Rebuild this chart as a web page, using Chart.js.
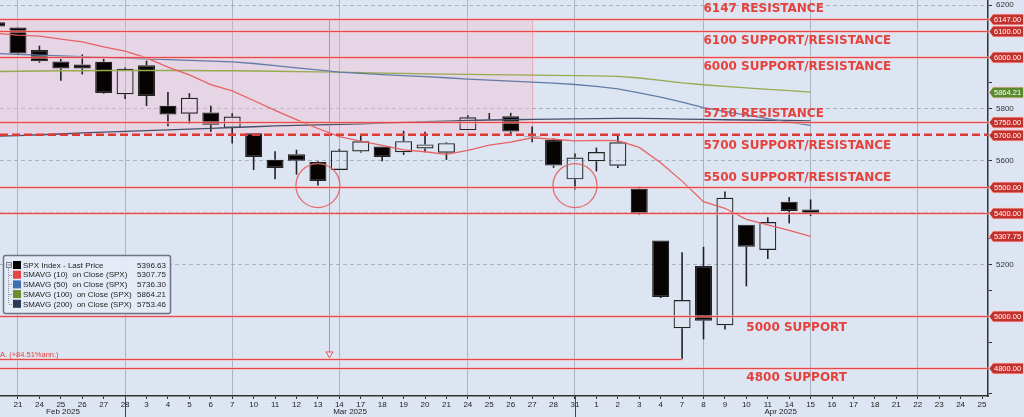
<!DOCTYPE html>
<html>
<head>
<meta charset="utf-8">
<title>SPX Index</title>
<script src="https://cdn.jsdelivr.net/npm/chart.js@4.4.1/dist/chart.umd.min.js"></script>
<style>
  html, body { margin: 0; padding: 0; background: #dde5f2; overflow: hidden; }
  canvas { display: block; }
</style>
</head>
<body>
<canvas id="chart" width="1024" height="417"></canvas>
<script>
// x axis day labels, index 0 = Feb 21 2025
const dayLabels = ["21","24","25","26","27","28","3","4","5","6","7","10","11","12","13","14","17","18","19","20","21","24","25","26","27","28","31","1","2","3","4","7","8","9","10","11","14","15","16","17","18","21","22","23","24","25"];

// SPX daily candles, Feb 20 (index -1) to Apr 15 (index 37)
const opens  = [6134.50,6114.10,6026.69,5982.73,5970.87,5981.88,5856.74,5968.33,5811.98,5781.46,5785.87,5726.01,5705.37,5603.65,5624.84,5594.45,5563.85,5635.60,5654.53,5632.37,5646.92,5630.73,5718.08,5775.86,5771.66,5695.64,5679.85,5527.91,5597.53,5580.76,5492.74,5292.14,4953.79,5193.57,4965.28,5353.15,5255.56,5441.96,5411.99];
const highs  = [6134.50,6114.82,6043.65,5992.65,6009.82,5993.69,5959.40,5986.09,5865.08,5860.59,5812.08,5783.01,5705.37,5636.30,5642.19,5597.78,5645.27,5703.52,5654.53,5715.33,5711.15,5670.84,5775.14,5783.96,5784.62,5732.28,5685.89,5627.56,5650.57,5695.31,5499.53,5292.14,5246.57,5267.47,5481.34,5353.15,5381.46,5459.46,5450.41];
const lows   = [6084.59,6008.56,5977.83,5908.49,5932.69,5858.78,5837.66,5810.91,5732.59,5742.35,5711.64,5666.29,5564.02,5528.41,5546.09,5504.65,5563.85,5631.12,5597.76,5622.20,5632.83,5603.10,5718.08,5759.07,5695.51,5670.94,5572.42,5488.73,5558.52,5571.48,5390.83,5069.90,4835.04,4910.42,4948.43,5115.27,5220.77,5358.02,5386.44];
const closes = [6117.52,6013.13,5983.25,5955.25,5956.06,5861.57,5954.50,5849.72,5778.15,5842.63,5738.52,5770.20,5614.56,5572.07,5599.30,5521.52,5638.94,5675.12,5614.66,5675.29,5662.89,5667.56,5767.57,5776.65,5712.20,5693.31,5580.94,5611.85,5633.07,5670.97,5396.52,5074.08,5062.25,4982.77,5456.90,5268.05,5363.36,5405.97,5396.63];

// moving averages, same days
const sma10  = [6091.74,6084.70,6080.42,6069.31,6058.06,6039.02,6022.96,5996.47,5961.33,5931.18,5893.28,5868.99,5832.12,5793.80,5758.12,5724.12,5692.56,5675.10,5658.75,5642.02,5634.46,5624.19,5639.49,5659.95,5671.24,5688.42,5682.62,5676.29,5678.13,5677.70,5651.06,5591.72,5521.18,5441.80,5416.27,5373.74,5351.98,5331.39,5307.75];
const sma50  = [6014,6010,6007,6004,6001,5999,5996,5993,5990,5987,5984,5981,5975,5967,5958,5950,5942,5937,5932,5928,5924,5920,5915,5911,5907,5903,5899,5894,5887,5877,5862,5845,5826,5805,5790,5776,5762,5749,5736.30];
const sma100 = [5944,5945,5946,5947,5947,5948,5948,5948,5948,5948,5947,5947,5946,5945,5944,5943,5942,5940,5938,5937,5935,5934,5933,5932,5931,5930,5929,5928,5927,5925,5919,5910,5900,5893,5887,5881,5875,5870,5864.21];
const sma200 = [5694,5697,5700,5703,5707,5710,5713,5716,5719,5722,5725,5728,5731,5734,5736,5738,5740,5742,5745,5748,5751,5753,5755,5757,5758,5759,5760,5761,5762,5763,5763,5762,5760,5759,5758,5757,5756,5755,5753.46];

// support / resistance levels
const levels = [6147, 6100, 6000, 5750, 5500, 5400, 5000, 4800];
const dashedLevel = 5700;
const yTickLabels = [6200, 5800, 5600, 5200];

// annotation layout
const gridDays = [0, 5, 10, 15, 21, 26, 32, 37, 42];
const monthNames = ["Feb 2025", "Mar 2025", "Apr 2025"];
const monthCenters = [2.1, 15.5, 35.6];
const monthEnds = [5, 26];
const notes = [
  ["6147 RESISTANCE", 6147, -10, 32],
  ["6100 SUPPORT/RESISTANCE", 6100, 10, 32],
  ["6000 SUPPORT/RESISTANCE", 6000, 10, 32],
  ["5750 RESISTANCE", 5750, -8, 32],
  ["5700 SUPPORT/RESISTANCE", 5700, 11, 32],
  ["5500 SUPPORT/RESISTANCE", 5500, -9, 32],
  ["5000 SUPPORT", 5000, 12, 34],
  ["4800 SUPPORT", 4800, 10, 34]
];
const circleDays = [14, 26];
const zone = { end: 24, top: 6147, bottom: 5700 };
const measure = { day: 14.5, from: 6147, to: 4835.04, toDay: 31, text: "A. (+84.51%ann.)" };

const BG = '#dde5f2';
const RED = '#e6423c';
const xs = closes.map((c, i) => i - 1);
const line = arr => xs.map((x, i) => ({ x: x, y: arr[i] }));

const lineDs = (label, arr, color) => ({
  type: 'line', label: label, data: line(arr), borderColor: color, borderWidth: 1.3,
  pointRadius: 0, tension: 0, fill: false
});

const barDs = (label, data, fill, thick) => ({
  type: 'bar', label: label, data: data, grouped: false, barThickness: thick,
  backgroundColor: fill, borderColor: thick > 3 ? '#222222' : 'rgba(0,0,0,0)',
  borderWidth: thick > 3 ? 1.2 : 0, borderSkipped: false, inflateAmount: 0
});

const deco = {
  id: 'deco',
  beforeDraw(chart) {
    const c = chart.ctx;
    c.save(); c.fillStyle = BG; c.fillRect(0, 0, chart.width, chart.height); c.restore();
  },
  beforeDatasetsDraw(chart) {
    const { ctx, chartArea: a, scales: { x, y } } = chart;
    const x1 = x.getPixelForValue(zone.end);
    const yt = y.getPixelForValue(zone.top), yb = y.getPixelForValue(zone.bottom);
    ctx.save();
    ctx.fillStyle = 'rgba(245,180,202,0.32)';
    ctx.fillRect(a.left, yt, x1 - a.left, yb - yt);
    ctx.strokeStyle = 'rgba(235,130,140,0.6)';
    ctx.lineWidth = 1;
    ctx.beginPath(); ctx.moveTo(x1 + 0.5, yt); ctx.lineTo(x1 + 0.5, yb); ctx.stroke();
    ctx.restore();
  },
  afterDatasetsDraw(chart) {
    const { ctx, chartArea: a, scales: { x, y } } = chart;
    ctx.save();
    const hline = (py, x0, x1) => {
      ctx.strokeStyle = 'rgba(255,170,170,0.55)'; ctx.lineWidth = 3;
      ctx.beginPath(); ctx.moveTo(x0, py); ctx.lineTo(x1, py); ctx.stroke();
      ctx.strokeStyle = 'rgba(222,62,62,0.9)'; ctx.lineWidth = 1.2;
      ctx.beginPath(); ctx.moveTo(x0, py); ctx.lineTo(x1, py); ctx.stroke();
    };
    levels.forEach(v => hline(Math.round(y.getPixelForValue(v)) + 0.5, a.left, a.right));

    // dashed 5700
    const pd = y.getPixelForValue(dashedLevel);
    ctx.strokeStyle = 'rgb(225,55,55)'; ctx.lineWidth = 2.5; ctx.setLineDash([8, 4]);
    ctx.beginPath(); ctx.moveTo(a.left, pd); ctx.lineTo(a.right, pd); ctx.stroke();
    ctx.setLineDash([]);

    // measure lines
    const mx = Math.round(x.getPixelForValue(measure.day)) + 0.5;
    const my0 = y.getPixelForValue(measure.from), my1 = y.getPixelForValue(measure.to);
    ctx.strokeStyle = 'rgba(232,110,110,0.85)'; ctx.lineWidth = 1;
    ctx.beginPath(); ctx.moveTo(mx, my0); ctx.lineTo(mx, my1 - 7); ctx.stroke();
    hline(Math.round(my1) + 0.5, a.left, x.getPixelForValue(measure.toDay));
    ctx.fillStyle = BG; ctx.strokeStyle = 'rgba(225,80,80,0.95)'; ctx.lineWidth = 1;
    ctx.beginPath(); ctx.moveTo(mx - 3.5, my1 - 7); ctx.lineTo(mx + 3.5, my1 - 7); ctx.lineTo(mx, my1 - 1); ctx.closePath();
    ctx.fill(); ctx.stroke();
    ctx.fillStyle = RED; ctx.font = '7.5px "Liberation Sans"'; ctx.textBaseline = 'alphabetic'; ctx.textAlign = 'left';
    ctx.fillText(measure.text, a.left, my1 - 2);

    // circles
    ctx.strokeStyle = 'rgba(230,95,95,0.9)'; ctx.lineWidth = 1.3;
    circleDays.forEach(d => {
      ctx.beginPath(); ctx.arc(x.getPixelForValue(d), y.getPixelForValue(5500) - 1, 22, 0, Math.PI * 2); ctx.stroke();
    });

    // notes
    ctx.fillStyle = RED; ctx.font = 'bold 12px "DejaVu Sans"'; ctx.textBaseline = 'middle'; ctx.textAlign = 'left';
    notes.forEach(n => ctx.fillText(n[0], x.getPixelForValue(n[3]), y.getPixelForValue(n[1]) + n[2]));
    ctx.restore();
  },
  afterDraw(chart) {
    const { ctx, chartArea: a, scales: { x, y } } = chart;
    ctx.save();
    // right-axis tags
    const tags = levels.concat([dashedLevel]).map(v => [v, v.toFixed(2), '#c4302b'])
      .concat([[sma100[sma100.length - 1], sma100[sma100.length - 1].toFixed(2), '#5a8a2c'],
               [sma10[sma10.length - 1], sma10[sma10.length - 1].toFixed(2), '#c4302b']]);
    ctx.font = '7.5px "Liberation Sans"'; ctx.textBaseline = 'middle'; ctx.textAlign = 'left';
    tags.forEach(t => {
      const py = Math.round(y.getPixelForValue(t[0])) + 0.5;
      const x0 = a.right + 1;
      ctx.beginPath();
      ctx.moveTo(x0, py); ctx.lineTo(x0 + 4, py - 5.5); ctx.lineTo(1023.5, py - 5.5);
      ctx.lineTo(1023.5, py + 5.5); ctx.lineTo(x0 + 4, py + 5.5); ctx.closePath();
      ctx.fillStyle = t[2]; ctx.fill();
      ctx.strokeStyle = 'rgba(255,205,205,0.9)'; ctx.lineWidth = 1; ctx.stroke();
      ctx.fillStyle = '#fff'; ctx.fillText(t[1], x0 + 5, py + 0.5);
    });

    // month labels and separators
    ctx.font = '8px "Liberation Sans"';
    ctx.fillStyle = '#222'; ctx.textAlign = 'center'; ctx.textBaseline = 'middle';
    monthNames.forEach((m, i) => ctx.fillText(m, x.getPixelForValue(monthCenters[i]), 412));
    ctx.strokeStyle = '#444'; ctx.lineWidth = 1;
    monthEnds.forEach(d => {
      const px = Math.round(x.getPixelForValue(d)) + 0.5;
      ctx.beginPath(); ctx.moveTo(px, a.bottom); ctx.lineTo(px, chart.height); ctx.stroke();
    });

    // legend box
    const rows = [
      ["SPX Index - Last Price", closes, '#000000'],
      ["SMAVG (10)  on Close (SPX)", sma10, '#e84444'],
      ["SMAVG (50)  on Close (SPX)", sma50, '#3f6fb0'],
      ["SMAVG (100)  on Close (SPX)", sma100, '#6e8c2a'],
      ["SMAVG (200)  on Close (SPX)", sma200, '#2c3b55']
    ];
    ctx.beginPath(); ctx.roundRect(3.5, 255.5, 167, 58, 2);
    ctx.fillStyle = 'rgba(228,234,246,0.97)'; ctx.fill();
    ctx.strokeStyle = '#6a7484'; ctx.lineWidth = 1.5; ctx.stroke();
    ctx.strokeStyle = '#8a93a2'; ctx.lineWidth = 1; ctx.setLineDash([1, 1]);
    ctx.beginPath(); ctx.moveTo(8.5, 268); ctx.lineTo(8.5, 304); ctx.stroke();
    rows.forEach((r, i) => {
      const ry = 265 + i * 9.7;
      if (i > 0) { ctx.beginPath(); ctx.moveTo(9, Math.round(ry) + 0.5); ctx.lineTo(13, Math.round(ry) + 0.5); ctx.stroke(); }
    });
    ctx.setLineDash([]);
    ctx.strokeStyle = '#7a8392'; ctx.strokeRect(6.5, 262.5, 5, 5);
    ctx.beginPath(); ctx.moveTo(7.5, 265); ctx.lineTo(11, 265); ctx.stroke();
    ctx.font = '8px "Liberation Sans"'; ctx.textBaseline = 'middle';
    rows.forEach((r, i) => {
      const ry = 265 + i * 9.7;
      ctx.fillStyle = r[2]; ctx.fillRect(13, ry - 4, 8, 8);
      ctx.fillStyle = '#1e1e1e'; ctx.textAlign = 'left';
      ctx.fillText(r[0], 23, ry + 0.5);
      ctx.textAlign = 'right';
      ctx.fillText(r[1][r[1].length - 1].toFixed(2), 166, ry + 0.5);
    });
    ctx.restore();
  }
};

new Chart(document.getElementById('chart').getContext('2d'), {
  type: 'bar',
  data: {
    datasets: [
      lineDs('SMAVG (10)', sma10, 'rgba(232,92,92,0.95)'),
      lineDs('SMAVG (50)', sma50, 'rgb(98,124,165)'),
      lineDs('SMAVG (100)', sma100, 'rgb(150,170,78)'),
      lineDs('SMAVG (200)', sma200, 'rgb(68,80,104)'),
      barDs('Body', xs.map((x, i) => ({ x: x, y: [opens[i], closes[i]] })),
        xs.map((x, i) => closes[i] < opens[i] ? '#070303' : 'rgba(0,0,0,0)'), 17),
      barDs('Upper wick', xs.map((x, i) => ({ x: x, y: [Math.max(opens[i], closes[i]), highs[i]] })), '#222', 1.6),
      barDs('Lower wick', xs.map((x, i) => ({ x: x, y: [lows[i], Math.min(opens[i], closes[i])] })), '#222', 1.6)
    ]
  },
  options: {
    responsive: false,
    animation: false,
    devicePixelRatio: 1,
    layout: { padding: 0 },
    plugins: { legend: { display: false }, tooltip: { enabled: false } },
    scales: {
      x: {
        type: 'linear', min: -0.84, max: 45.28, offset: false,
        afterFit: s => { s.height = 21; s.paddingLeft = 0; s.paddingRight = 0; },
        ticks: {
          stepSize: 1, includeBounds: false, autoSkip: false, maxRotation: 0, padding: 1,
          color: '#222', font: { family: 'Liberation Sans', size: 8 },
          callback: v => dayLabels[v] ?? ''
        },
        grid: {
          offset: false, lineWidth: 1, tickLength: 3, tickColor: '#333',
          color: c => (c.tick && gridDays.includes(c.tick.value)) ? 'rgba(152,162,180,0.75)' : 'rgba(0,0,0,0)'
        },
        border: { color: '#333', width: 1.5 }
      },
      y: {
        position: 'right', min: 4692, max: 6220,
        afterFit: s => { s.width = 36; s.paddingTop = 0; s.paddingBottom = 0; },
        ticks: {
          stepSize: 100, includeBounds: false, padding: 4,
          color: '#333', font: { family: 'Liberation Sans', size: 8 },
          callback: v => yTickLabels.includes(v) ? String(v) : ''
        },
        grid: {
          lineWidth: 1, tickLength: 4, tickColor: '#333',
          color: c => (c.tick && c.tick.value % 200 === 0) ? 'rgba(150,158,172,0.7)' : 'rgba(0,0,0,0)'
        },
        border: { color: '#333', width: 1.5, dash: [4, 3] }
      }
    }
  },
  plugins: [deco]
});
</script>
</body>
</html>
